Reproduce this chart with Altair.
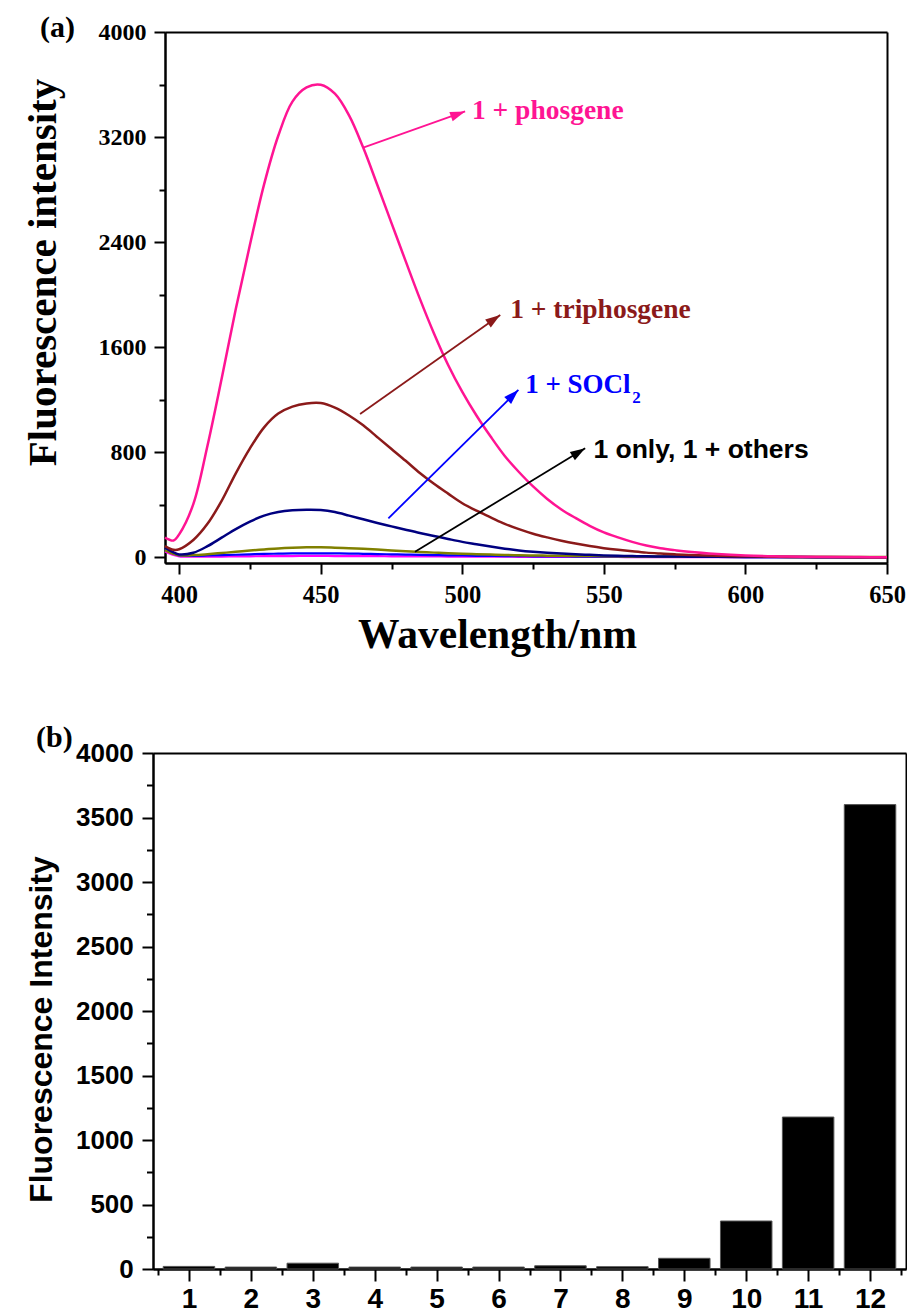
import altair as alt
import pandas as pd

SERIF = "Liberation Serif"
SANS = "Liberation Sans"

# ---------------- panel (a): emission spectra ----------------
wavelength = [395, 398, 400, 405, 410, 415, 420, 425, 430, 435, 440, 445, 450,
              455, 460, 465, 470, 475, 480, 485, 490, 495, 500,
              505, 510, 515, 520, 525, 530, 535, 540, 545, 550,
              555, 560, 565, 570, 575, 580,
              590, 600, 610, 620, 630, 640, 650]

I_phosgene = [150, 128, 175, 405, 850, 1360, 1890, 2380, 2840, 3210, 3470, 3578, 3598,
              3530, 3365, 3120, 2835, 2545, 2255, 1970, 1705, 1465, 1260,
              1080, 920, 772, 650, 540, 445, 365, 300, 240, 190,
              152, 118, 90, 70, 55, 42,
              25, 14, 8, 5, 3, 2, 1]
I_triphosgene = [86, 58, 62, 132, 255, 430, 640, 830, 990, 1095, 1148, 1172, 1175,
                 1140, 1080, 1005, 915, 825, 735, 642, 560, 485, 412,
                 355, 305, 255, 215, 180, 152, 127, 105, 86, 70,
                 57, 46, 36, 29, 23, 18,
                 12, 8, 5, 3, 2, 1, 1]
I_socl2 = [76, 38, 22, 35, 85, 150, 215, 272, 318, 345, 358, 362, 360,
           345, 318, 290, 262, 236, 210, 185, 163, 140, 118,
           100, 82, 66, 53, 43, 35, 29, 23, 19, 15,
           12, 10, 8, 7, 6, 5,
           4, 3, 2, 2, 1, 1, 1]
I_other_olive = [55, 26, 16, 17, 24, 33, 42, 52, 60, 68, 73, 76, 76,
                 74, 70, 65, 59, 53, 47, 41, 36, 31, 27,
                 24, 21, 18, 16, 14, 13, 12, 11, 10, 9,
                 8, 7, 7, 6, 6, 5,
                 5, 4, 4, 3, 3, 3, 3]
I_other_blue = [62, 28, 14, 12, 14, 17, 20, 23, 26, 28, 30, 31, 31,
                30, 29, 27, 25, 23, 21, 19, 17, 15, 14,
                12, 11, 10, 9, 8, 7, 7, 6, 6, 5,
                5, 4, 4, 4, 3, 3,
                3, 2, 2, 2, 2, 2, 2]
I_other_magenta = [45, 18, 8, 5, 5, 6, 7, 8, 9, 10, 10, 11, 11,
                   10, 10, 9, 9, 8, 8, 7, 7, 6, 6,
                   5, 5, 5, 4, 4, 4, 3, 3, 3, 3,
                   3, 2, 2, 2, 2, 2,
                   2, 2, 2, 2, 2, 2, 2]

series_names = ["other_magenta", "other_blue", "other_olive", "SOCl2", "triphosgene", "phosgene"]
series_values = [I_other_magenta, I_other_blue, I_other_olive, I_socl2, I_triphosgene, I_phosgene]
series_colors = ["#FF00FF", "#0000FF", "#808000", "#000080", "#8B1A1A", "#FF1493"]
series_widths = [2.2, 2.2, 2.5, 2.5, 2.5, 2.5]

# arrows (data coordinates) and labels
arrow_x1 = [465.0, 463.9, 473.9, 483.3]
arrow_y1 = [3120, 1092, 297, 43]
arrow_x2 = [501.0, 513.4, 519.8, 543.4]
arrow_y2 = [3395, 1846, 1275, 830]
arrow_colors = ["#FF1493", "#8B1A1A", "#0000FF", "#000000"]
arrow_angles = [340.2, 324.7, 315.4, 328.7]

serif_labels = ["1 + phosgene", "1 + triphosgene", "1 + SOCl"]
serif_x = [503.4, 516.9, 522.2]
serif_y = [3337, 1821, 1250]
serif_colors = ["#FF1493", "#8B1A1A", "#0000FF"]
serif_sizes = [27.5, 27.5, 27]

sub_label = ["2"]
sub_x = [560.0]
sub_y = [1176]

sans_label = ["1 only, 1 + others"]
sans_x = [546.3]
sans_y = [754]

# ---------------- panel (b): bar chart ----------------
bar_cats = [1, 2, 3, 4, 5, 6, 7, 8, 9, 10, 11, 12]
bar_values = [20, 15, 45, 15, 15, 15, 25, 18, 83, 372, 1178, 3600]

# ---------------- build tables ----------------
rows = []
for name, vals in zip(series_names, series_values):
    for w, v in zip(wavelength, vals):
        rows.append({"series": name, "wl": w, "I": v})
spec = pd.DataFrame(rows)

arrows = pd.DataFrame({"x1": arrow_x1, "y1": arrow_y1, "x2": arrow_x2, "y2": arrow_y2,
                       "color": arrow_colors, "angle": arrow_angles})
serif_df = pd.DataFrame({"x": serif_x, "y": serif_y, "t": serif_labels,
                         "color": serif_colors, "size": serif_sizes})
sub_df = pd.DataFrame({"x": sub_x, "y": sub_y, "t": sub_label})
sans_df = pd.DataFrame({"x": sans_x, "y": sans_y, "t": sans_label})
bars = pd.DataFrame({"cat": bar_cats, "val": bar_values})


def ax(**kw):
    base = dict(domainColor="black", tickColor="black", labelColor="black", titleColor="black",
                domainWidth=2, tickWidth=2, grid=False, labelOverlap=False, labelFlush=False)
    base.update(kw)
    return alt.Axis(**base)


# ---------- panel (a) ----------
WA, HA = 722, 531
xs_a = alt.Scale(domain=[395, 650], nice=False, zero=False)
ys_a = alt.Scale(domain=[-43, 4000], nice=False, zero=False)

xa_major = ax(orient="bottom", values=[400, 450, 500, 550, 600, 650], format="d", tickSize=11,
              labelFont=SERIF, labelFontWeight="bold", labelFontSize=24.5, labelPadding=9,
              title="Wavelength/nm", titleFont=SERIF, titleFontWeight="bold", titleFontSize=41.5,
              titleX=332, titleY=84, titleBaseline="alphabetic", titleAlign="center")
ya_major = ax(orient="left", values=[0, 800, 1600, 2400, 3200, 4000], format="d", tickSize=11,
              labelFont=SERIF, labelFontWeight="bold", labelFontSize=24, labelPadding=8,
              title="Fluorescence intensity", titleFont=SERIF, titleFontWeight="bold",
              titleFontSize=41, titleAngle=270, titleX=-110, titleY=240,
              titleBaseline="alphabetic", titleAlign="center")
xa_minor = ax(orient="bottom", values=[425, 475, 525, 575, 625], tickSize=6, labels=False, title=None)
ya_minor = ax(orient="left", values=[400, 1200, 2000, 2800, 3600], tickSize=6, labels=False, title=None)
xa_top = ax(orient="top", ticks=False, labels=False, title=None)
ya_right = ax(orient="right", ticks=False, labels=False, title=None)

a_layers = []
for i, (name, col, wdt) in enumerate(zip(series_names, series_colors, series_widths)):
    a_layers.append(
        alt.Chart(spec).transform_filter(alt.datum.series == name)
        .mark_line(color=col, strokeWidth=wdt, interpolate="catmull-rom")
        .encode(x=alt.X("wl:Q", scale=xs_a, axis=xa_major if i == 0 else None),
                y=alt.Y("I:Q", scale=ys_a, axis=ya_major if i == 0 else None))
    )

a_layers.append(
    alt.Chart(arrows).mark_rule(strokeWidth=1.8)
    .encode(x=alt.X("x1:Q", scale=xs_a, axis=xa_minor), x2="x2:Q",
            y=alt.Y("y1:Q", scale=ys_a, axis=ya_minor), y2="y2:Q",
            color=alt.Color("color:N", scale=None))
)
a_layers.append(
    alt.Chart(arrows).mark_point(shape="M0,0L-2,-0.65L-2,0.65Z", filled=True, size=225,
                                 opacity=1, strokeWidth=0)
    .encode(x=alt.X("x2:Q", scale=xs_a, axis=xa_top),
            y=alt.Y("y2:Q", scale=ys_a, axis=ya_right),
            angle=alt.Angle("angle:Q", scale=None),
            color=alt.Color("color:N", scale=None))
)
a_layers.append(
    alt.Chart(serif_df).mark_text(font=SERIF, fontWeight="bold", align="left", baseline="alphabetic")
    .encode(x=alt.X("x:Q", scale=xs_a, axis=None), y=alt.Y("y:Q", scale=ys_a, axis=None),
            text="t:N", color=alt.Color("color:N", scale=None), size=alt.Size("size:Q", scale=None))
)
a_layers.append(
    alt.Chart(sub_df).mark_text(font=SERIF, fontWeight="bold", align="left", baseline="alphabetic",
                                fontSize=17, color="#0000FF")
    .encode(x=alt.X("x:Q", scale=xs_a, axis=None), y=alt.Y("y:Q", scale=ys_a, axis=None), text="t:N")
)
a_layers.append(
    alt.Chart(sans_df).mark_text(font=SANS, fontWeight="bold", align="left", baseline="alphabetic",
                                 fontSize=26.5, color="black")
    .encode(x=alt.X("x:Q", scale=xs_a, axis=None), y=alt.Y("y:Q", scale=ys_a, axis=None), text="t:N")
)
a_layers.append(
    alt.Chart(alt.Data(values=[{"t": "(a)"}])).mark_text(
        font=SERIF, fontWeight="bold", fontSize=30, align="left", baseline="alphabetic", color="black")
    .encode(x=alt.value(-125), y=alt.value(5), text="t:N")
)
# layout anchor (invisible): fixes the vertical gap to panel (b)
a_layers.append(
    alt.Chart(alt.Data(values=[{"k": 1}])).mark_rule(opacity=0, strokeOpacity=0)
    .encode(x=alt.value(-165), x2=alt.value(-165), y=alt.value(-32), y2=alt.value(HA + 110))
)

panel_a = alt.layer(*a_layers).resolve_axis(x="independent", y="independent").properties(
    width=WA, height=HA)

# ---------- panel (b) ----------
WB, HB = 741, 516
xs_b = alt.Scale(domain=[0.5, 12.5], range=[-12, WB], nice=False, zero=False)
ys_b = alt.Scale(domain=[0, 4000], nice=False)

xb_major = ax(orient="bottom", values=bar_cats, format="d", tickSize=12,
              labelFont=SANS, labelFontWeight="bold", labelFontSize=28, labelPadding=4, title=None)
yb_major = ax(orient="left", offset=12, values=[0, 500, 1000, 1500, 2000, 2500, 3000, 3500, 4000],
              format="d", tickSize=11, labelFont=SANS, labelFontWeight="bold", labelFontSize=26,
              labelPadding=8.7, title="Fluorescence Intensity", titleFont=SANS, titleFontWeight="bold",
              titleFontSize=32, titleAngle=270, titleX=-102, titleY=276,
              titleBaseline="alphabetic", titleAlign="center")
xb_minor = ax(orient="bottom", values=[0.5 + k for k in range(13)], tickSize=6, labels=False, title=None)
yb_minor = ax(orient="left", offset=12, values=[250 + 500 * k for k in range(8)], tickSize=6.5,
              labels=False, title=None)
xb_top = ax(orient="top", ticks=False, labels=False, title=None)
yb_right = ax(orient="right", ticks=False, labels=False, title=None)

b_layers = [
    alt.Chart(bars).mark_bar(color="black", size=51.5, stroke="#555555", strokeWidth=1)
    .encode(x=alt.X("cat:Q", scale=xs_b, axis=xb_major), y=alt.Y("val:Q", scale=ys_b, axis=yb_major)),
    alt.Chart(bars).mark_point(opacity=0)
    .encode(x=alt.X("cat:Q", scale=xs_b, axis=xb_minor), y=alt.Y("val:Q", scale=ys_b, axis=yb_minor)),
    alt.Chart(bars).mark_point(opacity=0)
    .encode(x=alt.X("cat:Q", scale=xs_b, axis=xb_top), y=alt.Y("val:Q", scale=ys_b, axis=yb_right)),
    alt.Chart(alt.Data(values=[{"t": "(b)"}])).mark_text(
        font=SERIF, fontWeight="bold", fontSize=30, align="left", baseline="alphabetic", color="black")
    .encode(x=alt.value(-129), y=alt.value(-6), text="t:N"),
    alt.Chart(alt.Data(values=[{"k": 1}])).mark_rule(opacity=0, strokeOpacity=0)
    .encode(x=alt.value(0), x2=alt.value(0), y=alt.value(-40), y2=alt.value(-40)),
]
panel_b = alt.layer(*b_layers).resolve_axis(x="independent", y="independent").properties(
    width=WB, height=HB)

chart = alt.vconcat(panel_a, panel_b, spacing=40).properties(
    autosize=alt.AutoSizeParams(type="none"),
    padding={"left": 165, "top": 32, "right": 742, "bottom": 1282},
    background="white",
).configure_view(strokeWidth=0)

chart.save("out.html", embed_options={"renderer": "svg", "actions": False})
